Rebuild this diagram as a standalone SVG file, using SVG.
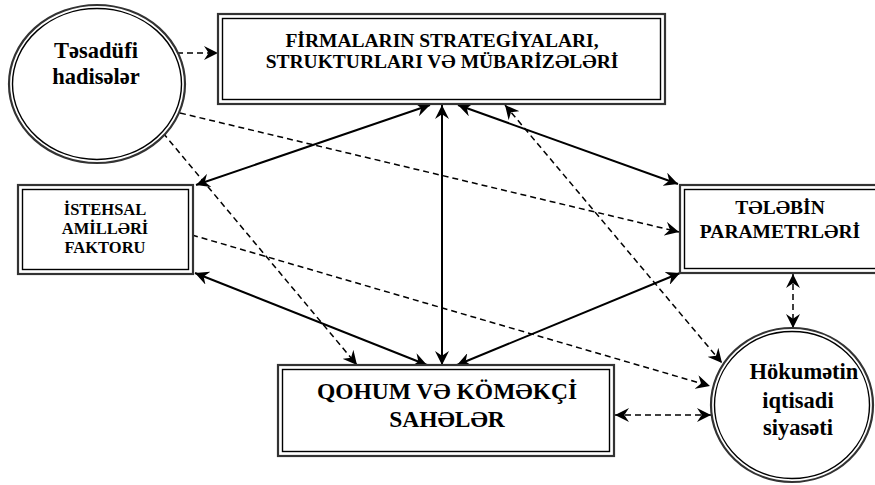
<svg xmlns="http://www.w3.org/2000/svg" width="875" height="485" viewBox="0 0 875 485">
<defs>
<marker id="ah" viewBox="0 0 12 12" markerWidth="14" markerHeight="14" markerUnits="userSpaceOnUse" refX="12" refY="6" orient="auto-start-reverse">
<path d="M0,0 L12,6 L0,12 L4,6 z" fill="#000"/>
</marker>
</defs>
<style>
.o{fill:#fff;stroke:#333;stroke-width:2.2}
.i{fill:none;stroke:#000;stroke-width:1.4}
.t{font-family:"Liberation Serif","DejaVu Serif",serif;font-weight:bold;fill:#000;text-anchor:middle}
.s{fill:none;stroke:#000;stroke-width:2}
.d{fill:none;stroke:#000;stroke-width:1.5;stroke-dasharray:6 4}
</style>
<rect width="875" height="485" fill="#fff"/>
<g id="connectors">
<line class="s" x1="430" y1="105" x2="196" y2="185" marker-start="url(#ah)" marker-end="url(#ah)"/>
<line class="s" x1="442" y1="105" x2="442" y2="365" marker-start="url(#ah)" marker-end="url(#ah)"/>
<line class="s" x1="458" y1="105" x2="678" y2="184" marker-start="url(#ah)" marker-end="url(#ah)"/>
<line class="s" x1="195" y1="273" x2="427" y2="365" marker-start="url(#ah)" marker-end="url(#ah)"/>
<line class="s" x1="680" y1="273" x2="457" y2="365" marker-start="url(#ah)" marker-end="url(#ah)"/>
<line class="d" x1="177" y1="53" x2="218" y2="53" marker-end="url(#ah)"/>
<line class="d" x1="180" y1="113" x2="679" y2="232" marker-end="url(#ah)"/>
<line class="d" x1="163" y1="133" x2="357" y2="365" marker-end="url(#ah)"/>
<line class="d" x1="192" y1="235" x2="710" y2="386" marker-end="url(#ah)"/>
<line class="d" x1="505" y1="105" x2="722" y2="363" marker-start="url(#ah)" marker-end="url(#ah)"/>
<line class="d" x1="793" y1="274" x2="793" y2="328" marker-start="url(#ah)" marker-end="url(#ah)"/>
<line class="d" x1="615" y1="415" x2="711" y2="415" marker-start="url(#ah)" marker-end="url(#ah)"/>
</g>
<g id="tesadufi">
<ellipse class="o" cx="97" cy="84" rx="88" ry="79"/>
<ellipse class="i" cx="97" cy="84" rx="84.5" ry="75.5"/>
<text class="t" x="96" y="58" font-size="22.5">Təsadüfi</text>
<text class="t" x="96" y="84" font-size="22.5">hadisələr</text>
</g>
<g id="firmalar">
<rect class="o" x="218" y="14" width="447" height="90"/>
<rect class="i" x="222.5" y="18.5" width="438" height="81"/>
<text class="t" x="442" y="47" font-size="19.5">FİRMALARIN STRATEGİYALARI,</text>
<text class="t" x="442" y="68" font-size="19.5">STRUKTURLARI VƏ MÜBARİZƏLƏRİ</text>
</g>
<g id="istehsal">
<rect class="o" x="18" y="185" width="175" height="89"/>
<rect class="i" x="22.5" y="189.5" width="166" height="80"/>
<text class="t" x="105" y="215" font-size="16.5">İSTEHSAL</text>
<text class="t" x="105" y="234" font-size="16.5">AMİLLƏRİ</text>
<text class="t" x="105" y="253" font-size="16.5">FAKTORU</text>
</g>
<g id="teleb">
<rect class="o" x="680" y="185" width="205" height="88"/>
<rect class="i" x="684.5" y="189.5" width="196" height="79"/>
<text class="t" x="780" y="214" font-size="19.5">TƏLƏBİN</text>
<text class="t" x="780" y="238" font-size="19.5">PARAMETRLƏRİ</text>
</g>
<g id="qohum">
<rect class="o" x="278" y="365" width="336" height="91"/>
<rect class="i" x="282.5" y="369.5" width="327" height="82"/>
<text class="t" x="447" y="399" font-size="23.5">QOHUM VƏ KÖMƏKÇİ</text>
<text class="t" x="447" y="427" font-size="23.5">SAHƏLƏR</text>
</g>
<g id="hokumet">
<ellipse class="o" cx="792" cy="405" rx="81" ry="77"/>
<ellipse class="i" cx="792" cy="405" rx="77.5" ry="73.5"/>
<text class="t" x="804" y="379" font-size="22.5">Hökumətin</text>
<text class="t" x="798" y="408" font-size="22.5">iqtisadi</text>
<text class="t" x="798" y="435" font-size="22.5">siyasəti</text>
</g>
</svg>
